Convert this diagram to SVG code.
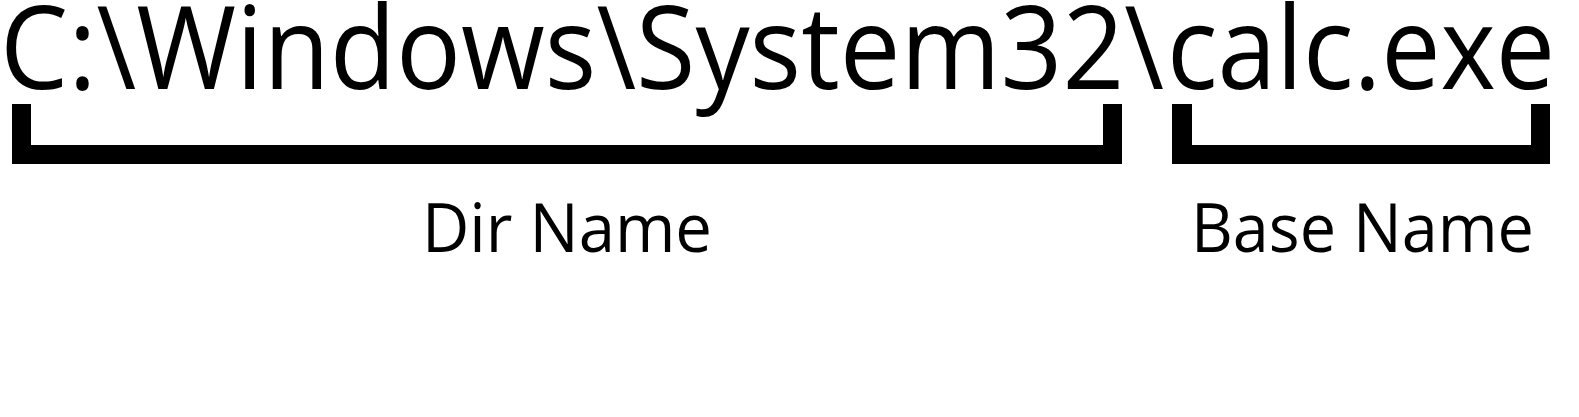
<svg xmlns="http://www.w3.org/2000/svg" width="1579" height="417" viewBox="0 0 1579 417">
<style>
.t{font-family:"Open Sans","Noto Sans",sans-serif;fill:#000}
.big{font-size:116px}
.lbl{font-size:68px}
.br{fill:#000}
</style>
<rect width="1579" height="417" fill="#fff"/>
<g id="path-text">
<text class="t big" y="89"><tspan x="0" textLength="1164" lengthAdjust="spacingAndGlyphs">C:\Windows\System32\</tspan><tspan x="1167" textLength="388" lengthAdjust="spacingAndGlyphs">calc.exe</tspan></text>
</g>
<g id="connectors">
<path id="dir-bracket" class="br" d="M12,104 H31 V145 H1103 V104 H1122 V164 H12 Z"/>
<path id="base-bracket" class="br" d="M1172,104 H1192 V145 H1531 V104 H1550 V164 H1172 Z"/>
</g>
<g id="dir-name">
<text class="t lbl" x="422" y="252" textLength="290" lengthAdjust="spacingAndGlyphs">Dir Name</text>
</g>
<g id="base-name">
<text class="t lbl" x="1191" y="252" textLength="343" lengthAdjust="spacingAndGlyphs">Base Name</text>
</g>
</svg>
